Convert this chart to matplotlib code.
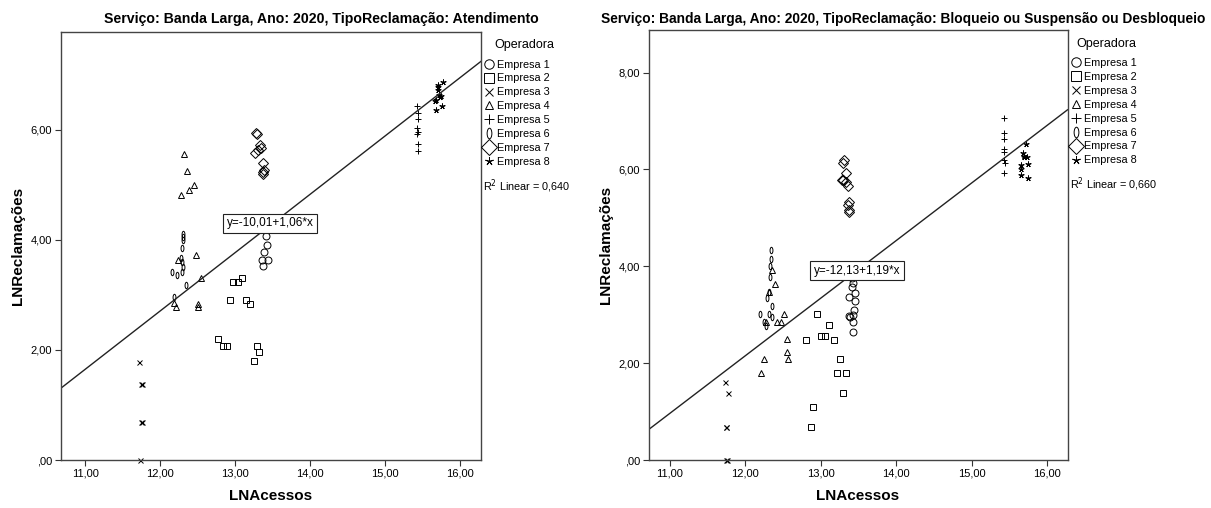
import matplotlib
matplotlib.use("Agg")
import matplotlib.pyplot as plt
from matplotlib.lines import Line2D
from matplotlib.path import Path
from matplotlib.transforms import Affine2D
from matplotlib.ticker import FuncFormatter
import numpy as np

plt.rcParams['font.family'] = ['Liberation Sans', 'DejaVu Sans']

W, H = 1211, 508

empresas = ["Empresa 1", "Empresa 2", "Empresa 3", "Empresa 4",
            "Empresa 5", "Empresa 6", "Empresa 7", "Empresa 8"]

# --- Painel 1: Atendimento ---
at_x = {
    "Empresa 1": [13.37, 13.36, 13.39, 13.43, 13.44, 13.40, 13.39, 13.41],
    "Empresa 2": [12.77, 12.84, 12.89, 12.93, 12.97, 13.04, 13.09, 13.15, 13.20, 13.29, 13.32, 13.25],
    "Empresa 3": [11.72, 11.75, 11.76, 11.75, 11.76, 11.73],
    "Empresa 4": [12.32, 12.36, 12.45, 12.39, 12.28, 12.48, 12.54, 12.51, 12.51, 12.21, 12.18, 12.24],
    "Empresa 5": [15.43, 15.44, 15.44, 15.43, 15.44, 15.43, 15.44, 15.44],
    "Empresa 6": [12.30, 12.30, 12.30, 12.29, 12.28, 12.29, 12.30, 12.16, 12.23, 12.29, 12.34, 12.19],
    "Empresa 7": [13.28, 13.29, 13.33, 13.30, 13.27, 13.35, 13.37, 13.37, 13.37, 13.38],
    "Empresa 8": [15.68, 15.76, 15.71, 15.77, 15.70, 15.72, 15.73, 15.68, 15.66, 15.71, 15.75],
}
at_y = {
    "Empresa 1": [3.52, 3.64, 3.79, 3.91, 3.64, 4.19, 4.25, 4.08],
    "Empresa 2": [2.20, 2.08, 2.08, 2.90, 3.23, 3.23, 3.31, 2.90, 2.84, 2.08, 1.96, 1.80],
    "Empresa 3": [1.79, 1.39, 1.39, 0.69, 0.69, 0.00],
    "Empresa 4": [5.57, 5.25, 5.00, 4.90, 4.81, 3.73, 3.30, 2.84, 2.79, 2.79, 2.85, 3.64],
    "Empresa 5": [6.44, 6.30, 6.19, 6.04, 5.96, 5.92, 5.75, 5.61],
    "Empresa 6": [4.10, 4.05, 4.00, 3.85, 3.67, 3.60, 3.50, 3.41, 3.36, 3.41, 3.18, 2.97],
    "Empresa 7": [5.95, 5.92, 5.72, 5.63, 5.58, 5.67, 5.40, 5.24, 5.19, 5.27],
    "Empresa 8": [6.37, 6.43, 6.82, 6.87, 6.73, 6.64, 6.60, 6.55, 6.52, 6.78, 6.62],
}

# --- Painel 2: Bloqueio ou Suspensão ou Desbloqueio ---
bl_x = {
    "Empresa 1": [13.39, 13.38, 13.43, 13.44, 13.46, 13.45, 13.41, 13.43, 13.38, 13.43, 13.43, 13.42],
    "Empresa 2": [12.95, 12.80, 13.00, 13.06, 13.11, 13.18, 13.26, 13.22, 13.34, 13.30, 12.90, 12.87],
    "Empresa 3": [11.73, 11.77, 11.74, 11.75, 11.76, 11.75],
    "Empresa 4": [12.36, 12.39, 12.31, 12.51, 12.42, 12.48, 12.55, 12.55, 12.57, 12.25, 12.21, 12.27],
    "Empresa 5": [15.43, 15.43, 15.43, 15.43, 15.43, 15.43, 15.44, 15.43],
    "Empresa 6": [12.34, 12.34, 12.33, 12.33, 12.31, 12.29, 12.36, 12.20, 12.31, 12.35, 12.25, 12.27],
    "Empresa 7": [13.31, 13.30, 13.33, 13.28, 13.30, 13.33, 13.36, 13.38, 13.36, 13.38, 13.37],
    "Empresa 8": [15.72, 15.68, 15.70, 15.74, 15.65, 15.66, 15.75, 15.65, 15.75, 15.70],
}
bl_y = {
    "Empresa 1": [2.95, 2.98, 3.00, 3.10, 3.29, 3.44, 3.57, 3.66, 3.37, 2.84, 2.64, 3.75],
    "Empresa 2": [3.01, 2.48, 2.57, 2.57, 2.79, 2.48, 2.08, 1.79, 1.79, 1.38, 1.09, 0.69],
    "Empresa 3": [1.61, 1.38, 0.69, 0.69, 0.00, 0.00],
    "Empresa 4": [3.92, 3.64, 3.46, 3.02, 2.85, 2.85, 2.50, 2.23, 2.09, 2.09, 1.80, 2.86],
    "Empresa 5": [7.07, 6.76, 6.62, 6.43, 6.36, 6.19, 6.14, 5.92],
    "Empresa 6": [4.34, 4.16, 4.00, 3.77, 3.46, 3.34, 3.18, 3.01, 3.01, 2.96, 2.86, 2.76],
    "Empresa 7": [6.19, 6.14, 5.92, 5.78, 5.78, 5.75, 5.66, 5.33, 5.26, 5.16, 5.13],
    "Empresa 8": [6.52, 6.33, 6.26, 6.26, 6.09, 6.00, 6.12, 5.88, 5.83, 6.28],
}

# narrow "0" shaped marker for Empresa 6
oval = Path.unit_circle().transformed(Affine2D().scale(0.45, 1.0))

marcadores = {
    "Empresa 1": 'o', "Empresa 2": 's', "Empresa 3": 'x', "Empresa 4": '^',
    "Empresa 5": '+', "Empresa 6": oval, "Empresa 7": 'D', "Empresa 8": (5, 2, 0),
}
# tamanho no grafico / na legenda
tam_plot = {"Empresa 1": 5.0, "Empresa 2": 5.0, "Empresa 3": 3.6, "Empresa 4": 4.0,
            "Empresa 5": 4.6, "Empresa 6": 4.6, "Empresa 7": 5.0, "Empresa 8": 4.2}
tam_leg = {"Empresa 1": 6.8, "Empresa 2": 7.2, "Empresa 3": 5.2, "Empresa 4": 6.0,
           "Empresa 5": 7.2, "Empresa 6": 7.6, "Empresa 7": 8.6, "Empresa 8": 6.0}


def fmt(v, pos):
    if abs(v) < 1e-9:
        return ",00"
    return f"{v:.2f}".replace('.', ',')


def fig_x(px):
    return px / W


def fig_y(py):
    return 1 - py / H


def painel(fig, rect, dx, dy, xlim, ylim, yticks, a, b, r2, eq_pos, leg_px, title, title_px, title_w):
    ax = fig.add_axes(rect)
    for nome in empresas:
        ax.plot(dx[nome], dy[nome], linestyle='none', marker=marcadores[nome], ms=tam_plot[nome],
                mfc='none', mec='black', mew=0.7, color='black', clip_on=False)
    xs = np.array(xlim)
    ax.plot(xs, a + b * xs, color='#222222', lw=1.0)
    ax.set_xlim(xlim)
    ax.set_ylim(ylim)
    ax.set_xticks([11, 12, 13, 14, 15, 16])
    ax.set_yticks(yticks)
    ax.xaxis.set_major_formatter(FuncFormatter(fmt))
    ax.yaxis.set_major_formatter(FuncFormatter(fmt))
    ax.tick_params(direction='out', length=4, width=0.8, labelsize=8, pad=2, color='#333333')
    for s in ax.spines.values():
        s.set_color('#444444')
        s.set_linewidth(1.0)
    ax.set_xlabel("LNAcessos", fontsize=11, fontweight='bold', labelpad=8)
    ax.set_ylabel("LNReclamações", fontsize=11, fontweight='bold', labelpad=4)
    eq = f"y={a:.2f}+{b:.2f}*x".replace('.', ',')
    ax.text(eq_pos[0], eq_pos[1], eq, fontsize=8.5, ha='center', va='center',
            bbox=dict(boxstyle='square,pad=0.3', fc='white', ec='#222222', lw=0.8))

    # legenda
    lx, oper_y, top_y, r2_y, oper_cx = leg_px
    fig.text(fig_x(oper_cx), fig_y(oper_y), "Operadora", fontsize=9, ha='center', va='center')
    handles = [Line2D([], [], linestyle='none', marker=marcadores[n], ms=tam_leg[n],
                      mfc='none', mec='black', mew=0.7) for n in empresas]
    fig.legend(handles, empresas, loc='upper left', bbox_to_anchor=(fig_x(lx), fig_y(top_y)),
               bbox_transform=fig.transFigure, frameon=False, fontsize=7.8,
               handlelength=0.8, handletextpad=0.3, labelspacing=0.36,
               borderaxespad=0.0, borderpad=0.0)
    fig.text(fig_x(lx - 2), fig_y(r2_y), f"R$^2$ Linear = {r2}", fontsize=7.8, ha='left', va='center')

    t = fig.text(fig_x(title_px[0]), fig_y(title_px[1]), title, fontsize=9.5, fontweight='bold',
                 ha='center', va='center',
                 family=['DejaVu Sans Condensed', 'Liberation Sans', 'DejaVu Sans'])
    fig.canvas.draw()
    w = t.get_window_extent().width
    t.set_fontsize(9.5 * title_w / w)
    return ax


fig = plt.figure(figsize=(W / 100, H / 100), dpi=100)

painel(fig, [fig_x(60.7), fig_y(460), fig_x(481 - 60.7), (460 - 32) / H], at_x, at_y,
       (10.672, 16.28), (0, 7.78), [0, 2, 4, 6], -10.01, 1.06, "0,640", (13.47, 4.30),
       (485, 45, 59.5, 186, 524),
       "Serviço: Banda Larga, Ano: 2020, TipoReclamação: Atendimento", (321, 19.5), 436)

painel(fig, [fig_x(648.5), fig_y(460), fig_x(1067.5 - 648.5), (460 - 29.5) / H], bl_x, bl_y,
       (10.72, 16.27), (0, 8.89), [0, 2, 4, 6, 8], -12.13, 1.19, "0,660", (13.48, 3.91),
       (1072, 44, 58, 184, 1106),
       "Serviço: Banda Larga, Ano: 2020, TipoReclamação: Bloqueio ou Suspensão ou Desbloqueio",
       (903, 19.5), 604)

fig.savefig("out.png", dpi=100)
